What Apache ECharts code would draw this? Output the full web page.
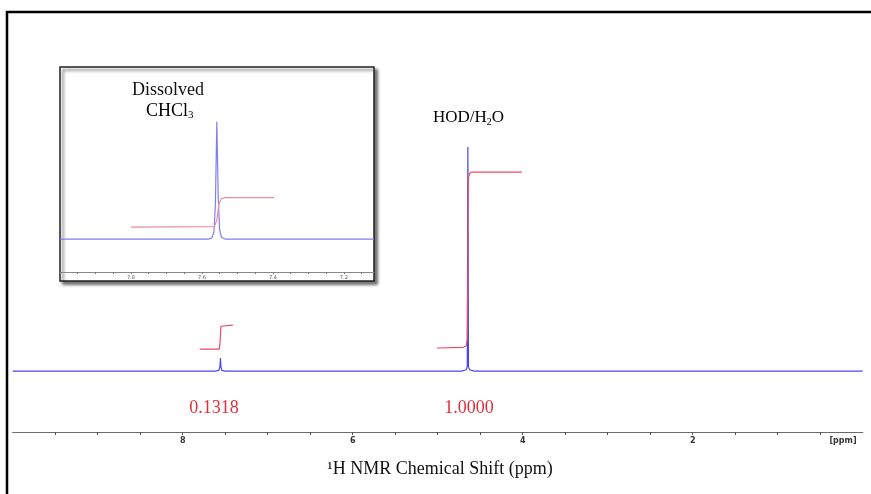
<!DOCTYPE html>
<html><head><meta charset="utf-8">
<script src="https://cdn.jsdelivr.net/npm/echarts@6/dist/echarts.min.js"></script>
<style>html,body{margin:0;background:#fff}#c{width:871px;height:494px}</style>
</head><body><div id="c"></div>
<script>
// ---- data (ppm, relative intensity) ----
const mainTickLabels = [2, 4, 6, 8];
const spectrumMain = [[10,0],[7.62,0],[7.575,0.003],[7.562,0.02],[7.556,0.058],[7.55,0.02],[7.54,0.003],[7.50,0],
  [4.72,0],[4.665,0.006],[4.652,0.02],[4.645,1.0],[4.638,0.02],[4.625,0.006],[4.57,0],[0,0]];
const integralCHCl3 = [[7.80,0.098],[7.57,0.098],[7.562,0.12],[7.556,0.16],[7.55,0.2],[7.54,0.205],[7.41,0.205]];
const integralHOD = [[5.01,0.103],[4.70,0.106],[4.665,0.112],[4.652,0.14],[4.645,0.5],[4.640,0.86],[4.625,0.882],[4.60,0.888],[4.01,0.888]];
const integralValues = ['0.1318', '1.0000'];
const peakNames = ['Dissolved', 'CHCl', 'HOD/H', 'O'];
const insetTickLabels = [7.2, 7.4, 7.6, 7.8];
const spectrumInset = [[8.0,0],[7.58,0],[7.572,0.01],[7.566,0.06],[7.562,0.3],[7.558,1.0],[7.554,0.35],[7.55,0.08],[7.545,0.015],[7.535,0],[7.115,0]];
const integralInset = [[7.80,0.102],[7.565,0.105],[7.558,0.16],[7.552,0.30],[7.545,0.345],[7.535,0.352],[7.396,0.352]];

const insetMinorTicks = [];
for (let i = 143; i <= 160; i++) insetMinorTicks.push(+(i * 0.05).toFixed(2));

const chart = echarts.init(document.getElementById('c'), null, {renderer: 'canvas'});
const serif = 'Liberation Serif, Times New Roman, serif';
const red = '#e0303a';
const pink = '#ec4a64';

chart.setOption({
  animation: false,
  backgroundColor: '#fff',
  grid: [
    {left: 12.7, right: 8.3, top: 147, bottom: 62},
    {left: 60, width: 314, top: 67, bottom: 222}
  ],
  xAxis: [
    {type: 'value', gridIndex: 0, min: 0, max: 10, interval: 0.5, inverse: true,
     axisLine: {onZero: false, lineStyle: {color: '#6a6a6a', width: 1.2}},
     axisTick: {length: 3, lineStyle: {color: '#555'}},
     axisLabel: {margin: 5, fontSize: 8, fontWeight: 'bold', color: '#333', fontFamily: 'DejaVu Sans',
       formatter: v => mainTickLabels.includes(v) ? String(v) : '', showMinLabel: false, showMaxLabel: false},
     splitLine: {show: false}},
    {type: 'value', gridIndex: 1, min: 7.115, max: 8.0, inverse: true, z: 3,
     axisLine: {onZero: false, lineStyle: {color: '#888', width: 1}},
     axisTick: {length: 2, customValues: insetMinorTicks, lineStyle: {color: '#777'}},
     axisLabel: {margin: 3, fontSize: 5, color: '#555', fontFamily: 'DejaVu Sans', customValues: insetTickLabels,
       formatter: v => v.toFixed(1)},
     splitLine: {show: false}}
  ],
  yAxis: [
    {type: 'value', gridIndex: 0, min: -0.272, max: 1, show: false},
    {type: 'value', gridIndex: 1, min: -0.281, max: 1.466, show: false}
  ],
  graphic: [
    {type: 'rect', z: -2, shape: {x: 7, y: 12, width: 900, height: 500},
     style: {fill: 'none', stroke: '#000', lineWidth: 2.5}},
    {type: 'rect', z: -1, shape: {x: 60, y: 67, width: 314, height: 214},
     style: {fill: '#fff', stroke: '#222', lineWidth: 1.5, shadowBlur: 3, shadowOffsetX: 3, shadowOffsetY: 3, shadowColor: 'rgba(0,0,0,0.55)'}},
    {type: 'text', z: 10, style: {x: 168, y: 90, text: peakNames[0], textAlign: 'center', textVerticalAlign: 'middle',
      font: '18px ' + serif, fill: '#111'}},
    {type: 'text', z: 10, style: {x: 146, y: 101, text: '{a|' + peakNames[1] + '}{s|3}',
      rich: {a: {fontFamily: serif, fontSize: 18, color: '#111'}, s: {fontFamily: serif, fontSize: 11, color: '#111', padding: [9, 0, 0, 0]}}}},
    {type: 'text', z: 10, style: {x: 433, y: 108, text: '{a|' + peakNames[2] + '}{s|2}{a|' + peakNames[3] + '}',
      rich: {a: {fontFamily: serif, fontSize: 17, color: '#111'}, s: {fontFamily: serif, fontSize: 10, color: '#111', padding: [9, 0, 0, 0]}}}},
    {type: 'text', z: 10, style: {x: 214, y: 408, text: integralValues[0], textAlign: 'center', textVerticalAlign: 'middle',
      font: '18px ' + serif, fill: red}},
    {type: 'text', z: 10, style: {x: 469, y: 408, text: integralValues[1], textAlign: 'center', textVerticalAlign: 'middle',
      font: '18px ' + serif, fill: red}},
    {type: 'text', z: 10, style: {x: 843, y: 441, text: '[ppm]', textAlign: 'center', textVerticalAlign: 'middle',
      font: 'bold 8px DejaVu Sans', fill: '#333'}},
    {type: 'text', z: 10, style: {x: 440, y: 469, text: '\u00B9H NMR Chemical Shift (ppm)', textAlign: 'center', textVerticalAlign: 'middle',
      font: '18px ' + serif, fill: '#111'}}
  ],
  series: [
    {type: 'line', xAxisIndex: 0, yAxisIndex: 0, data: spectrumMain, showSymbol: false, z: 3,
     lineStyle: {color: '#4848ea', width: 1.2}},
    {type: 'line', xAxisIndex: 0, yAxisIndex: 0, data: integralCHCl3, showSymbol: false, z: 4,
     lineStyle: {color: pink, width: 1.2}},
    {type: 'line', xAxisIndex: 0, yAxisIndex: 0, data: integralHOD, showSymbol: false, z: 4,
     lineStyle: {color: pink, width: 1.2}},
    {type: 'line', xAxisIndex: 1, yAxisIndex: 1, data: spectrumInset, showSymbol: false, z: 5,
     lineStyle: {color: '#7f7fee', width: 1.2}},
    {type: 'line', xAxisIndex: 1, yAxisIndex: 1, data: integralInset, showSymbol: false, z: 6,
     lineStyle: {color: '#f08a9c', width: 1.2}}
  ]
});
</script></body></html>
